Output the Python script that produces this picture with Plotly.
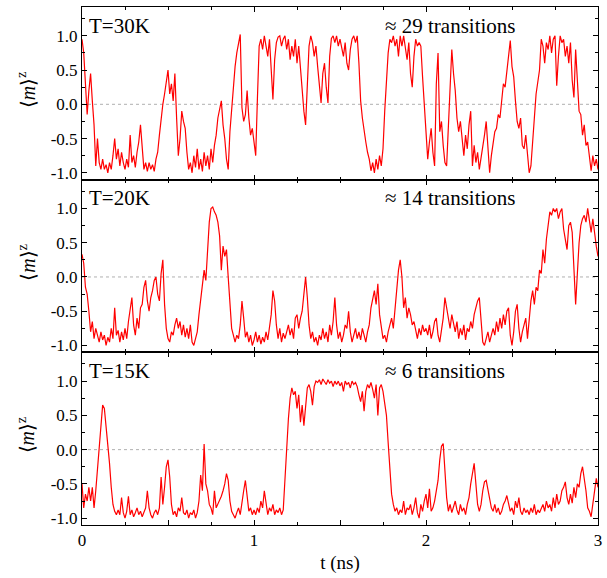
import plotly.graph_objects as go
from plotly.subplots import make_subplots

# time grid (ns), sampled every 0.01 ns
t_ns = [round(i * 0.01, 2) for i in range(301)]

m_30K = [
    0.95, 0.75, 0.30, -0.15, 0.20, 0.45, 0.05, -0.30, -0.90, -0.50,
    -0.85, -0.95, -0.80, -0.95, -0.88, -1.00, -0.85, -0.95, -0.75, -0.50,
    -0.80, -0.65, -0.90, -0.70, -0.85, -0.95, -0.80, -0.92, -0.45, -0.85,
    -0.75, -0.92, -0.70, -0.55, -0.30, -0.70, -0.95, -0.85, -0.98, -0.85,
    -0.95, -0.88, -0.98, -0.80, -0.70, -0.45, -0.20, 0.00, 0.15, 0.35,
    0.50, 0.15, 0.30, 0.05, 0.45, -0.20, -0.75, -0.50, -0.10, -0.25,
    -0.35, -0.70, -0.95, -0.85, -1.00, -0.75, -0.92, -0.65, -0.95, -0.80,
    -0.98, -0.70, -0.90, -0.75, -0.95, -0.65, -0.85, -0.60, -0.45, -0.20,
    -0.05, 0.05, -0.30, -0.50, -0.80, -0.95, -0.40, -0.10, 0.30, 0.55,
    0.75, 0.90, 1.02, -0.05, -0.25, -0.15, 0.20, -0.20, -0.45, -0.35,
    -0.55, -0.75, 0.10, 0.85, 0.95, 0.80, 1.00, 0.85, 0.70, 0.95,
    0.55, 0.07, 0.65, 0.90, 0.98, 1.00, 0.85, 0.95, 1.00, 0.80,
    0.95, 0.65, 0.85, 0.70, 0.95, 0.60, 0.85, 0.50, 0.30, -0.10,
    -0.30, 0.40, 0.85, 1.00, 0.90, 0.70, 0.85, 0.55, 0.30, 0.02,
    0.45, 0.60, 0.25, 0.02, 0.70, 0.96, 1.00, 0.90, 1.00, 0.85,
    0.95, 0.80, 0.70, 0.90, 0.60, 0.50, 0.80, 0.95, 1.00, 0.90,
    1.00, 0.60, 0.05, -0.20, -0.40, -0.55, -0.70, -0.80, -0.97, -0.85,
    -1.00, -0.80, -0.95, -0.75, -0.90, -0.65, -0.10, 0.40, 0.75, 0.95,
    0.90, 1.00, 0.85, 0.95, 0.70, 1.00, 0.85, 1.00, 0.80, 0.65,
    0.90, 0.45, 0.25, 0.70, 0.95, 0.85, 0.90, 0.85, 0.40, 0.05,
    -0.45, -0.80, -0.55, -0.35, -0.70, -0.90, 0.30, 0.75, -0.40, -0.25,
    -0.60, -0.85, -0.90, -0.35, 0.10, 0.80, 0.45, 0.20, -0.20, -0.40,
    -0.25, -0.55, -0.75, -0.45, -0.65, -0.30, -0.10, -0.90, -0.60, -0.85,
    -0.70, -0.95, -0.80, -0.60, -0.45, -0.25, -0.65, -1.00, -0.75, -0.60,
    -0.40, -0.35, -0.15, -0.20, 0.10, 0.30, 0.25, 0.50, 0.70, 0.93,
    0.55, 0.40, 0.05, -0.25, -0.35, -0.20, -0.60, -0.65, -0.45, -0.80,
    -1.00, -0.90, -0.60, -0.20, 0.15, 0.30, 0.50, 0.95, 0.85, 0.60,
    0.90, 0.80, 1.00, 0.75, 0.95, 1.00, 0.27, 0.70, 1.00, 0.90,
    0.95, 0.70, 0.85, 0.60, 0.90, 0.35, 0.10, 0.80, 0.30, -0.10,
    -0.15, -0.45, -0.30, -0.60, -0.55, -0.80, -0.97, -0.75, -0.90, -0.80,
    -0.95,
]

m_20K = [
    0.33, 0.20, -0.15, -0.25, -0.50, -0.80, -0.65, -0.90, -0.75, -0.85,
    -0.95, -0.80, -0.92, -0.85, -1.00, -0.88, -0.95, -0.75, -0.90, -0.45,
    -0.85, -0.78, -0.95, -0.80, -0.92, -0.75, -0.90, -0.65, -0.50, -0.30,
    -0.70, -0.85, -0.60, -0.75, -0.45, -0.40, -0.15, -0.05, -0.35, -0.50,
    -0.30, -0.20, -0.05, 0.00, -0.25, -0.35, 0.05, 0.25, -0.40, -0.75,
    -0.90, -0.95, -0.80, -0.85, -0.70, -0.60, -0.75, -0.65, -0.85, -0.70,
    -0.88, -0.75, -0.90, -0.70, -0.95, -1.00, -0.90, -0.80, -0.55, -0.30,
    -0.15, 0.10, -0.05, 0.45, 0.80, 1.00, 1.02, 0.95, 0.90, 0.80,
    0.60, 0.10, 0.45, 0.30, 0.40, 0.00, -0.45, -0.75, -0.85, -0.95,
    -0.85, -0.90, -0.70, -0.35, -0.60, -0.88, -0.80, -0.95, -0.85, -1.00,
    -0.92, -0.80, -0.95, -0.85, -0.98, -0.88, -0.95, -0.80, -0.92, -0.70,
    -0.55, -0.20, -0.35, -0.70, -0.90, -0.75, -0.95, -0.82, -0.90, -0.80,
    -0.70, -0.85, -0.75, -0.90, -0.60, -0.55, -0.75, -0.60, -0.50, -0.25,
    0.00, -0.30, -0.70, -0.90, -0.80, -0.95, -0.88, -1.00, -0.85, -0.92,
    -0.75, -0.90, -0.80, -0.95, -0.70, -0.85, -0.65, -0.30, -0.70, -0.90,
    -0.80, -0.95, -0.85, -0.70, -0.75, -0.50, -0.80, -0.95, -0.85, -0.75,
    -0.90, -0.80, -0.92, -0.75, -0.85, -0.95, -0.80, -0.70, -0.45, -0.30,
    -0.20, -0.40, -0.10, -0.55, -0.75, -0.90, -0.85, -0.95, -0.80, -0.70,
    -0.60, -0.75, -0.45, -0.20, 0.10, 0.25, 0.00, -0.45, -0.30, -0.60,
    -0.45, -0.55, -0.70, -0.65, -0.80, -0.90, -0.75, -0.85, -0.70, -0.80,
    -0.75, -0.85, -0.70, -0.90, -0.80, -0.65, -0.60, -0.85, -0.95, -0.80,
    -0.60, -0.30, -0.45, -0.60, -0.75, -0.55, -0.70, -0.80, -0.65, -0.90,
    -0.75, -0.85, -0.70, -0.92, -0.75, -0.80, -0.65, -0.75, -0.55, -0.45,
    -0.35, -0.30, -0.70, -0.95, -1.00, -0.90, -0.80, -0.95, -0.85, -0.75,
    -0.85, -0.65, -0.80, -0.60, -0.75, -0.55, -0.70, -0.50, -0.45, -0.85,
    -1.00, -0.80, -0.50, -0.40, -0.75, -0.95, -0.80, -0.70, -0.60, -0.90,
    -0.55, -0.35, -0.20, -0.40, -0.15, -0.20, 0.10, 0.05, 0.40, 0.20,
    0.55, 0.75, 0.95, 0.90, 1.00, 0.95, 1.00, 0.85, 0.95, 1.00,
    0.70, 0.55, 0.40, 0.75, 0.80, 0.65, 0.20, -0.40, 0.05, 0.50,
    0.75, 0.85, 0.90, 0.80, 1.00, 0.80, 0.65, 0.85, 0.60, 0.45,
    0.30,
]

m_15K = [
    -0.50, -0.85, -0.65, -0.75, -0.55, -0.75, -0.55, -0.85, -0.60, -0.30,
    0.05, 0.40, 0.65, 0.60, 0.35, 0.10, -0.20, -0.55, -0.80, -0.90,
    -0.95, -0.88, -0.95, -0.70, -0.92, -1.00, -0.90, -0.68, -0.95, -0.88,
    -0.98, -0.92, -0.85, -0.95, -0.90, -0.98, -0.92, -0.85, -0.60, -0.85,
    -0.95, -1.00, -0.92, -0.88, -0.95, -0.85, -0.40, -0.80, -0.55, -0.25,
    -0.15, -0.40, -0.80, -0.95, -0.90, -0.98, -0.85, -0.90, -0.70, -0.92,
    -0.95, -0.88, -1.00, -0.92, -0.95, -0.88, -1.00, -0.92, -0.75, -0.37,
    -0.60, 0.08, -0.50, -0.60, -0.80, -0.85, -0.95, -0.60, -0.85, -0.80,
    -0.75, -0.68, -0.60, -0.50, -0.35, -0.45, -0.75, -0.90, -0.95, -1.00,
    -0.92, -0.85, -0.95, -0.75, -0.60, -0.45, -0.70, -0.90, -0.85, -0.95,
    -0.88, -0.95, -0.85, -0.92, -0.75, -0.85, -0.60, -0.80, -0.95, -0.85,
    -0.90, -0.80, -0.95, -0.88, -0.92, -0.85, -0.95, -0.88, -0.40, 0.12,
    0.45, 0.75, 0.90, 0.80, 0.85, 0.60, 0.80, 0.40, 0.65, 0.35,
    0.70, 0.90, 0.95, 0.85, 0.65, 0.92, 1.00, 0.98, 1.02, 0.95,
    1.03, 0.98, 0.95, 1.02, 0.97, 1.00, 0.92, 1.00, 0.95, 1.00,
    0.93, 0.98, 0.85, 1.00, 0.95, 0.98, 0.90, 1.00, 0.95, 0.98,
    0.92, 0.80, 0.70, 0.85, 0.56, 0.85, 0.95, 0.90, 0.98, 0.88,
    0.75, 0.95, 0.50, 0.90, 0.95, 0.85, 0.70, 0.50, 0.10, -0.30,
    -0.65, -0.80, -0.90, -0.85, -0.95, -0.88, -0.92, -0.75, -0.95, -0.85,
    -0.88, -0.80, -0.95, -0.85, -0.70, -0.92, -1.00, -0.80, -0.90, -0.75,
    -0.65, -0.85, -0.57, -0.90, -0.85, -0.75, -0.60, -0.45, -0.15, 0.05,
    0.09, -0.30, -0.70, -0.90, -0.80, -0.92, -0.85, -0.75, -0.88, -0.95,
    -0.80, -0.90, -0.85, -0.95, -0.80, -0.70, -0.50, -0.35, -0.20, -0.50,
    -0.80, -0.90, -0.80, -0.60, -0.47, -0.45, -0.60, -0.75, -0.85, -0.90,
    -0.80, -0.92, -0.85, -0.95, -0.90, -0.80, -0.75, -0.67, -0.80, -0.90,
    -0.85, -0.95, -0.75, -0.85, -0.70, -0.90, -0.95, -0.85, -0.92, -0.88,
    -0.95, -0.85, -0.92, -0.80, -0.95, -0.88, -0.92, -0.85, -0.80, -0.90,
    -0.75, -0.85, -0.80, -0.90, -0.70, -0.85, -0.65, -0.80, -0.75, -0.60,
    -0.55, -0.47, -0.70, -0.80, -0.65, -0.78, -0.55, -0.70, -0.50, -0.55,
    -0.35, -0.25, -0.40, -0.60, -0.85, -0.90, -0.98, -0.80, -0.60, -0.42,
    -0.55,
]

panel_series = [m_30K, m_20K, m_15K]
temp_labels = ["T=30K", "T=20K", "T=15K"]
transition_labels = ["≈ 29 transitions", "≈ 14 transitions", "≈ 6 transitions"]
y_ticks = [-1.0, -0.5, 0.0, 0.5, 1.0]
y_tick_text = ["-1.0", "-0.5", "0.0", "0.5", "1.0"]
x_ticks = [0, 0.5, 1, 1.5, 2, 2.5, 3]
x_tick_text = ["0", "", "1", "", "2", "", "3"]

FONT = "Liberation Serif"

fig = make_subplots(rows=3, cols=1, shared_xaxes=True, vertical_spacing=0)

for i, series in enumerate(panel_series):
    r = i + 1
    # dotted zero line
    fig.add_trace(go.Scatter(x=[0, 3], y=[0, 0], mode="lines",
                             line=dict(color="#b0b0b0", width=1, dash="dot"),
                             showlegend=False, hoverinfo="skip"), row=r, col=1)
    fig.add_trace(go.Scatter(x=t_ns, y=series, mode="lines",
                             line=dict(color="#ff0000", width=1.2),
                             showlegend=False, hoverinfo="skip"), row=r, col=1)
    fig.update_yaxes(range=[-1.1, 1.42], tickvals=y_ticks, ticktext=y_tick_text,
                     ticks="inside", ticklen=5, tickwidth=1, tickcolor="black",
                     minor=dict(dtick=0.25, ticks="inside", ticklen=3, tickcolor="black"),
                     showline=True, linecolor="black", linewidth=1, mirror="allticks",
                     showgrid=False, zeroline=False, automargin=False,
                     tickfont=dict(family=FONT, size=17, color="black"),
                     row=r, col=1)
    fig.update_xaxes(range=[0, 3], tickvals=x_ticks, ticktext=x_tick_text,
                     ticks="inside", ticklen=5, tickwidth=1, tickcolor="black",
                     minor=dict(dtick=0.25, ticks="inside", ticklen=3, tickcolor="black"),
                     showline=True, linecolor="black", linewidth=1, mirror="allticks",
                     showgrid=False, zeroline=False, automargin=False,
                     ticklabeloverflow="allow",
                     tickfont=dict(family=FONT, size=17, color="black"),
                     row=r, col=1)
    yref = "y" if r == 1 else f"y{r}"
    xref = "x" if r == 1 else f"x{r}"
    fig.add_annotation(x=0.03, y=1.15, xref=xref, yref=yref, text=temp_labels[i],
                       showarrow=False, xanchor="left", yanchor="middle",
                       font=dict(family=FONT, size=21, color="black"))
    fig.add_annotation(x=1.75, y=1.15, xref=xref, yref=yref, text=transition_labels[i],
                       showarrow=False, xanchor="left", yanchor="middle",
                       font=dict(family=FONT, size=21, color="black"))
    # y-axis title
    fig.add_annotation(x=-0.108, y=0.52, xref="paper", yref=f"{yref} domain",
                       text="⟨<i>m</i>⟩<sup>z</sup>", textangle=-90,
                       showarrow=False, xanchor="center", yanchor="middle",
                       font=dict(family=FONT, size=20, color="black"))

fig.update_xaxes(title=dict(text="t (ns)", font=dict(family=FONT, size=19, color="black"),
                            standoff=6), row=3, col=1)

fig.update_layout(width=607, height=578,
                  margin=dict(l=82, r=9, t=7, b=53),
                  paper_bgcolor="white", plot_bgcolor="white",
                  font=dict(family=FONT, color="black"))

# remove the default 8 px page margin so the figure fills the window exactly
fig.write_html("out.html",
               config={"displayModeBar": False, "staticPlot": True},
               post_script="document.body.style.margin='0';document.body.style.overflow='hidden';")
